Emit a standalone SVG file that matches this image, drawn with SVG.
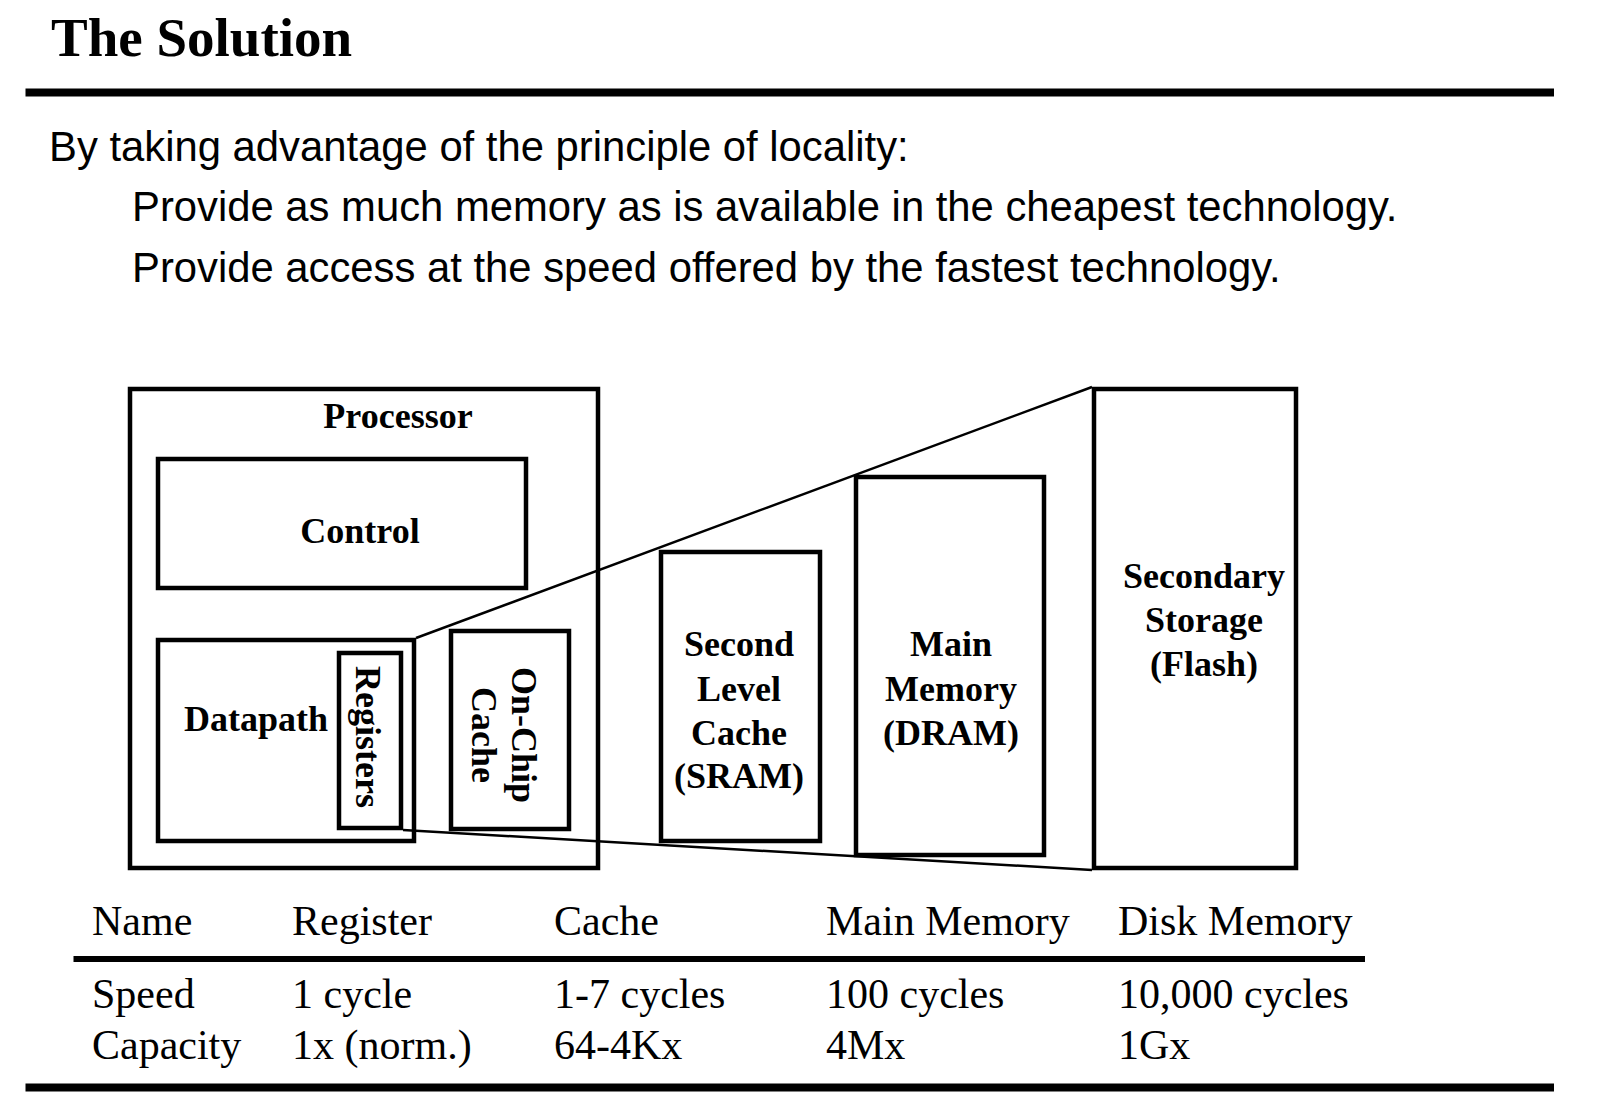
<svg xmlns="http://www.w3.org/2000/svg" width="1600" height="1106" viewBox="0 0 1600 1106">
<style>
.bg{fill:#fff}
.box{fill:none;stroke:#000;stroke-width:4.5}
.rule{stroke:#000;fill:none}
.conn{stroke:#000;stroke-width:2.5;fill:none}
.title{font-family:"Liberation Serif","Times New Roman",serif;font-weight:bold;font-size:55px;fill:#000}
.body{font-family:"Liberation Sans",Arial,sans-serif;font-size:41.8px;fill:#000}
.lbl{font-family:"Liberation Serif","Times New Roman",serif;font-weight:bold;font-size:36px;fill:#000;text-anchor:middle}
.tbl{font-family:"Liberation Serif","Times New Roman",serif;font-size:42px;fill:#000}
</style>
<rect class="bg" x="0" y="0" width="1600" height="1106"/>
<g id="header">
<text class="title" x="51" y="56">The Solution</text>
<line class="rule" x1="25.5" y1="92.5" x2="1554" y2="92.5" stroke-width="8"/>
<text class="body" x="49" y="161">By taking advantage of the principle of locality:</text>
<text class="body" x="132" y="221">Provide as much memory as is available in the cheapest technology.</text>
<text class="body" x="132" y="282">Provide access at the speed offered by the fastest technology.</text>
</g>
<g id="connectors">
<line class="conn" x1="416" y1="638" x2="1092" y2="387"/>
<line class="conn" x1="403" y1="830" x2="1092" y2="870"/>
</g>
<g id="processor">
<rect class="box" x="130" y="389" width="468" height="479"/>
<text class="lbl" x="398" y="428">Processor</text>
</g>
<g id="control">
<rect class="box" x="158" y="459" width="368" height="129"/>
<text class="lbl" x="360" y="543">Control</text>
</g>
<g id="datapath">
<rect class="box" x="158" y="640" width="256" height="201"/>
<text class="lbl" x="256" y="731">Datapath</text>
</g>
<g id="registers">
<rect class="box" x="339" y="653" width="62" height="175"/>
<text class="lbl" transform="translate(356,737) rotate(90)">Registers</text>
</g>
<g id="onchip-cache">
<rect class="box" x="451" y="631" width="118" height="198"/>
<text class="lbl" transform="translate(512,735) rotate(90)">On-Chip</text>
<text class="lbl" transform="translate(472,735) rotate(90)">Cache</text>
</g>
<g id="second-level-cache">
<rect class="box" x="661" y="552" width="159" height="289"/>
<text class="lbl" x="739" y="656">Second</text>
<text class="lbl" x="739" y="701">Level</text>
<text class="lbl" x="739" y="745">Cache</text>
<text class="lbl" x="739" y="788">(SRAM)</text>
</g>
<g id="main-memory">
<rect class="box" x="856" y="477" width="188" height="378"/>
<text class="lbl" x="951" y="656">Main</text>
<text class="lbl" x="951" y="701">Memory</text>
<text class="lbl" x="951" y="745">(DRAM)</text>
</g>
<g id="secondary-storage">
<rect class="box" x="1094" y="389" width="202" height="479"/>
<text class="lbl" x="1204" y="588">Secondary</text>
<text class="lbl" x="1204" y="632">Storage</text>
<text class="lbl" x="1204" y="676">(Flash)</text>
</g>
<g id="table">
<text class="tbl" x="92" y="935">Name</text>
<text class="tbl" x="292" y="935">Register</text>
<text class="tbl" x="554" y="935">Cache</text>
<text class="tbl" x="826" y="935">Main Memory</text>
<text class="tbl" x="1118" y="935">Disk Memory</text>
<line class="rule" x1="73.5" y1="959" x2="1365" y2="959" stroke-width="6"/>
<text class="tbl" x="92" y="1008">Speed</text>
<text class="tbl" x="292" y="1008">1 cycle</text>
<text class="tbl" x="554" y="1008">1-7 cycles</text>
<text class="tbl" x="826" y="1008">100 cycles</text>
<text class="tbl" x="1118" y="1008">10,000 cycles</text>
<text class="tbl" x="92" y="1059">Capacity</text>
<text class="tbl" x="292" y="1059">1x (norm.)</text>
<text class="tbl" x="554" y="1059">64-4Kx</text>
<text class="tbl" x="826" y="1059">4Mx</text>
<text class="tbl" x="1118" y="1059">1Gx</text>
<line class="rule" x1="25.5" y1="1087.5" x2="1554" y2="1087.5" stroke-width="8"/>
</g>
</svg>
